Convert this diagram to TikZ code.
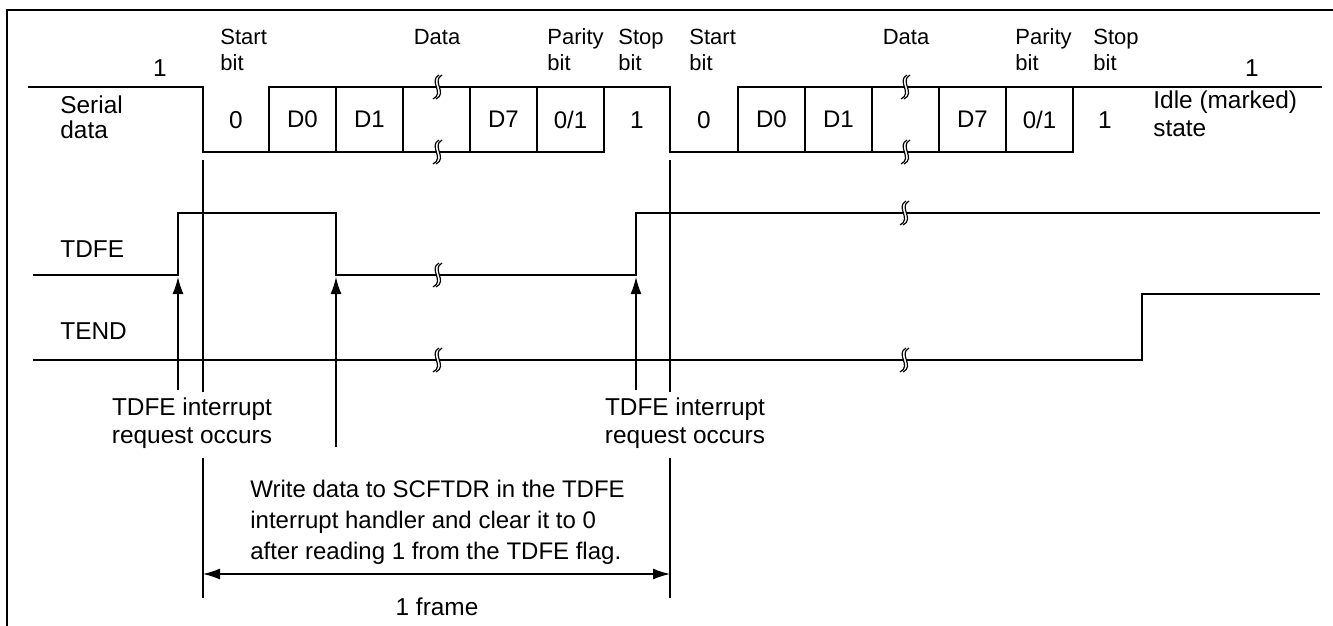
\documentclass[tikz,border=0pt]{standalone}
\usepackage{fontspec}
\setmainfont{Liberation Sans}
\usetikzlibrary{arrows.meta}
\tikzset{
  wave/.style={line width=1pt, line join=miter},
  cell/.style={draw, line width=1pt, minimum width=33.5pt, minimum height=32.5pt,
               inner sep=0pt, outer sep=0pt, anchor=west, font=\fontsize{12}{14}\selectfont},
  txt/.style={inner sep=0pt, font=\fontsize{12.2}{14}\selectfont},
  smalltxt/.style={inner sep=0pt, align=left, anchor=west, font=\fontsize{11}{13}\selectfont},
  flagarrow/.style={line width=0.7pt, -{Latex[length=8.5pt,width=5.5pt]}},
  markline/.style={line width=0.9pt},
  brk/.pic={
    \fill[white] (2,-12) .. controls (-9,-6) and (8,6) .. (-4,12) -- (-1,12)
                 .. controls (11,6) and (-6,-6) .. (5,-12) -- cycle;
    \draw[line width=0.6pt] (2,-12) .. controls (-9,-6) and (8,6) .. (-4,12);
    \draw[line width=0.6pt] (5,-12) .. controls (-6,-6) and (11,6) .. (-1,12);
  },
}
\begin{document}
\begin{tikzpicture}[x=0.5pt, y=-0.5pt]
    \useasboundingbox (0,0) rectangle (1333,626);
    \draw[line width=1pt] (7,626) -- (7,10) -- (1333,10);

    % serial data
    \draw[wave] (28,87) -- (203,87) -- (203,152) -- (269,152);
    \draw[wave] (604,87) -- (670,87) -- (670,152) -- (738,152);
    \draw[wave] (1073,87) -- (1322,87);
    \node[cell] (d0a) at (269,119.5) {D0};
    \node[cell] (d1a) at (336,119.5) {D1};
    \node[cell] (gapa) at (403,119.5) {};
    \node[cell] (d7a) at (470,119.5) {D7};
    \node[cell] (pa) at (537,119.5) {0/1};
    \node[cell] (d0b) at (738,119.5) {D0};
    \node[cell] (d1b) at (805,119.5) {D1};
    \node[cell] (gapb) at (872,119.5) {};
    \node[cell] (d7b) at (939,119.5) {D7};
    \node[cell] (pb) at (1006,119.5) {0/1};
    \pic at (437,87) {brk};
    \pic at (437,152) {brk};
    \pic at (905,87) {brk};
    \pic at (905,152) {brk};
    \node[txt] (sta) at (236,120) {0};
    \node[txt] (spa) at (637,120) {1};
    \node[txt] (stb) at (704,120) {0};
    \node[txt] (spb) at (1105,120) {1};
    \node[txt] (idlea) at (160,68) {1};
    \node[txt] (idleb) at (1252,68) {1};
    \node[smalltxt] (lsta) at (220,50) {Start\\bit};
    \node[smalltxt, anchor=center] (ldata) at (437,37) {Data};
    \node[smalltxt] (lpa) at (547,50) {Parity\\bit};
    \node[smalltxt] (lspa) at (618,50) {Stop\\bit};
    \node[smalltxt] (lstb) at (689,50) {Start\\bit};
    \node[smalltxt, anchor=center] (ldatb) at (906,37) {Data};
    \node[smalltxt] (lpb) at (1015,50) {Parity\\bit};
    \node[smalltxt] (lspb) at (1093,50) {Stop\\bit};
    \node[txt, align=left, anchor=west, font=\fontsize{12.2}{12.5}\selectfont] (serial) at (60,117) {Serial\\data};
    \node[txt, align=left, anchor=west] (idle) at (1153,114) {Idle (marked)\\state};

    % TDFE and TEND
    \node[txt, anchor=west] (tdfe) at (60,249) {TDFE};
    \node[txt, anchor=west] (tend) at (60,331) {TEND};
    \draw[wave] (33,275) -- (178,275) -- (178,213) -- (336,213) -- (336,275)
                -- (636,275) -- (636,213) -- (1320,213);
    \draw[wave] (33,360) -- (1142,360) -- (1142,294) -- (1320,294);
    \pic at (437,275) {brk};
    \pic at (904,213) {brk};
    \pic at (437,360) {brk};
    \pic at (904,360) {brk};

    % frame marks
    \coordinate (fa1) at (203,160);
    \coordinate (fa2) at (203,392);
    \coordinate (fa3) at (203,458);
    \coordinate (fa4) at (203,598);
    \coordinate (fb1) at (670,160);
    \coordinate (fb2) at (670,392);
    \coordinate (fb3) at (670,458);
    \coordinate (fb4) at (670,598);
    \draw[markline] (fa1) -- (fa2) (fa3) -- (fa4);
    \draw[markline] (fb1) -- (fb2) (fb3) -- (fb4);
    \coordinate (fl) at (203,574);
    \coordinate (fr) at (670,574);
    \draw[line width=0.7pt, {Latex[length=8.5pt,width=5.5pt]}-{Latex[length=8.5pt,width=5.5pt]}] (fl) -- (fr);
    \node[txt] (frame) at (437,607) {1 frame};

    % interrupt arrows
    \coordinate (r1) at (178,277);
    \coordinate (r1b) at (178,390);
    \coordinate (r2) at (336,277);
    \coordinate (r2b) at (336,447);
    \coordinate (r3) at (636,277);
    \coordinate (r3b) at (636,390);
    \draw[flagarrow] (r1b) -- (r1);
    \draw[flagarrow] (r2b) -- (r2);
    \draw[flagarrow] (r3b) -- (r3);
    \node[txt, align=center] (irqa) at (192,423) {TDFE interrupt\\request occurs};
    \node[txt, align=center] (irqb) at (685,423) {TDFE interrupt\\request occurs};
    \node[txt, align=left, anchor=west, font=\fontsize{12}{15.5}\selectfont] (note) at (250,522)
      {Write data to SCFTDR in the TDFE\\interrupt handler and clear it to 0\\after reading 1 from the TDFE flag.};
  \end{tikzpicture}
\end{document}
